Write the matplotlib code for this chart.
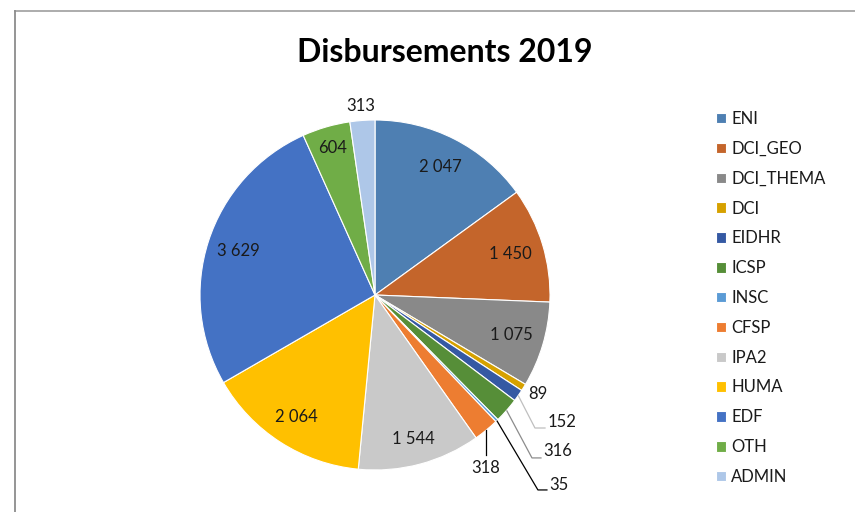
"""
Camembert des décaissements 2019 par instrument, style Excel.
"""

import matplotlib

matplotlib.use("Agg")

import numpy as np
import matplotlib.pyplot as plt
from matplotlib.lines import Line2D

programmes = [
    "ENI", "DCI_GEO", "DCI_THEMA", "DCI", "EIDHR", "ICSP", "INSC",
    "CFSP", "IPA2", "HUMA", "EDF", "OTH", "ADMIN",
]
montants = [2047, 1450, 1075, 89, 152, 316, 35, 318, 1544, 2064, 3629, 604, 313]
couleurs = [
    "#4E7FB2", "#C4652B", "#898989", "#D6A100", "#3559A3", "#568E38", "#5B9BD5",
    "#ED7D31", "#C9C9C9", "#FFC000", "#4472C4", "#70AD47", "#AEC7E8",
]

# distance des étiquettes internes (fraction du rayon)
RAYON_ETIQ = {"ENI": 0.82, "DCI_GEO": 0.81, "DCI_THEMA": 0.81, "IPA2": 0.85,
              "HUMA": 0.83, "EDF": 0.82, "OTH": 0.875}

# étiquettes externes : position du texte, coude de la ligne de rappel, couleur
EXTERNES = {
    "DCI": dict(xy=(0.931, -0.566), ha="center"),
    "ADMIN": dict(xy=(-0.08, 1.08), ha="center"),
    "EIDHR": dict(xy=(0.985, -0.726), ha="left", coude=(0.914, -0.76), c="#BFBFBF"),
    "ICSP": dict(xy=(0.962, -0.891), ha="left", coude=(0.897, -0.931), c="#8C8C8C"),
    "INSC": dict(xy=(0.996, -1.086), ha="left", coude=(0.931, -1.114), c="#000000"),
    "CFSP": dict(xy=(0.634, -0.99), ha="center", vertical=-0.914, c="#000000"),
}

TAILLE = 12


def fmt(v):
    return f"{v:,}".replace(",", " ")


plt.rcParams["font.family"] = ["Lato", "DejaVu Sans"]

W, H, R = 855, 512, 175
cx, cy = 375, H - 295

fig = plt.figure(figsize=(W / 100, H / 100), dpi=100)
ax = fig.add_axes([0, 0, 1, 1])

wedges, _ = ax.pie(
    montants,
    colors=couleurs,
    startangle=90,
    counterclock=False,
    wedgeprops=dict(edgecolor="white", linewidth=0.8),
)
ax.set_aspect("auto")
ax.set_xlim(-cx / R, (W - cx) / R)
ax.set_ylim(-cy / R, (H - cy) / R)
ax.axis("off")

for w, nom, val in zip(wedges, programmes, montants):
    ang = np.deg2rad((w.theta1 + w.theta2) / 2)
    px, py = np.cos(ang), np.sin(ang)
    if nom in RAYON_ETIQ:
        r = RAYON_ETIQ[nom]
        ax.text(r * px, r * py, fmt(val), ha="center", va="center",
                fontsize=TAILLE, color="#1a1a1a")
        continue
    opt = EXTERNES[nom]
    tx, ty = opt["xy"]
    ax.text(tx, ty, fmt(val), ha=opt["ha"], va="center", fontsize=TAILLE,
            color="#1a1a1a")
    if "coude" in opt:
        ex, ey = opt["coude"]
        ax.plot([px, ex, tx - 0.01], [py, ey, ey], color=opt["c"], lw=0.9,
                solid_capstyle="butt")
    elif "vertical" in opt:
        ax.plot([px, px], [py, opt["vertical"]], color=opt["c"], lw=0.9)

fig.text(445 / W, 1 - 52 / H, "Disbursements 2019", ha="center", va="center",
         fontsize=23, fontweight="bold", color="black")

fig.legend(
    wedges, programmes,
    loc="upper left",
    bbox_to_anchor=(716 / W, 1 - 111 / H),
    frameon=False,
    fontsize=TAILLE,
    handlelength=0.6,
    handleheight=0.6,
    handletextpad=0.3,
    labelspacing=0.83,
    borderpad=0,
    borderaxespad=0,
    labelcolor="#1a1a1a",
)

# cadre gris (bords haut et gauche visibles)
x0, y0 = 15 / W, 1 - 11 / H
fig.add_artist(Line2D([x0, 1], [y0, y0], color="#A6A6A6", lw=1.3))
fig.add_artist(Line2D([x0, x0], [0, y0], color="#8C8C8C", lw=1.3))

fig.savefig("out.png", dpi=100)
